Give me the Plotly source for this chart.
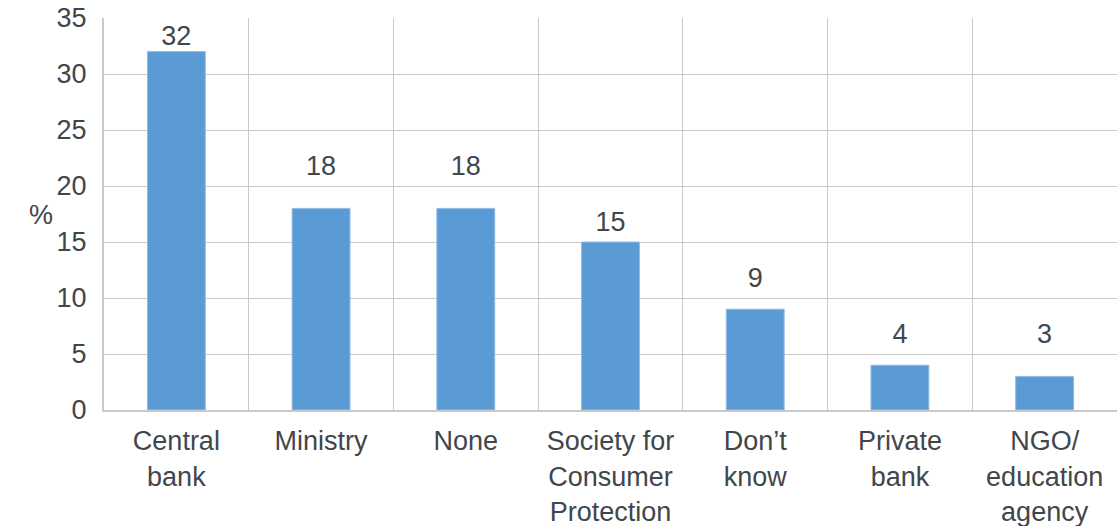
import math
import plotly.graph_objects as go

categories = ["Central<br>bank", "Ministry", "None", "Society for<br>Consumer<br>Protection",
              "Don’t<br>know", "Private<br>bank", "NGO/<br>education<br>agency"]
values = [32, 18, 18, 15, 9, 4, 3]
y_ticks = [0, 5, 10, 15, 20, 25, 30, 35]

FONT = "Liberation Sans, Arial, sans-serif"
TXT = "#41464b"
GRID = "#c9c9c9"

# value labels sit inside the grid band above each bar (as in the original layout)
label_y = []
for v in values:
    band = math.ceil(v / 5) * 5 + 1.6
    label_y.append(band if band < 34 else v + 1.2)

fig = go.Figure()
fig.add_trace(go.Bar(
    x=categories, y=values,
    marker=dict(color="#5b9bd5", line=dict(width=1, color="#8fbce6")),
    hoverinfo="x+y",
))
fig.add_trace(go.Scatter(
    x=categories, y=label_y, mode="text",
    text=[str(v) for v in values], textposition="middle center",
    textfont=dict(family=FONT, size=27, color=TXT),
    cliponaxis=False, hoverinfo="skip",
))

L, R, T, B = 104, 0, 18, 116
W, H = 1117, 526

fig.update_layout(
    width=W, height=H,
    margin=dict(l=L, r=R, t=T, b=B, autoexpand=False),
    paper_bgcolor="white", plot_bgcolor="white",
    bargap=0.6,
    showlegend=False,
    font=dict(family=FONT, color=TXT),
    xaxis=dict(
        type="category", tickson="boundaries", showgrid=True, gridcolor=GRID, gridwidth=1,
        showline=True, linecolor=GRID, linewidth=2, ticks="",
        tickfont=dict(family=FONT, size=27, color=TXT),
        ticklabelstandoff=6, automargin=False,
    ),
    yaxis=dict(
        range=[0, 35], tickvals=y_ticks, showgrid=True, gridcolor=GRID, gridwidth=1,
        showline=True, linecolor=GRID, linewidth=2, ticks="", zeroline=False,
        tickfont=dict(family=FONT, size=27, color=TXT),
        ticklabelstandoff=10, automargin=False,
    ),
)
pw = W - L - R
ph = H - T - B
fig.add_annotation(text="%", x=(27 - L) / pw, y=(H - B - 215) / ph, xref="paper", yref="paper",
                   showarrow=False, font=dict(family=FONT, size=27, color=TXT))

fig.write_html("out.html", config={"displayModeBar": False},
               post_script="document.body.style.margin='0';")
